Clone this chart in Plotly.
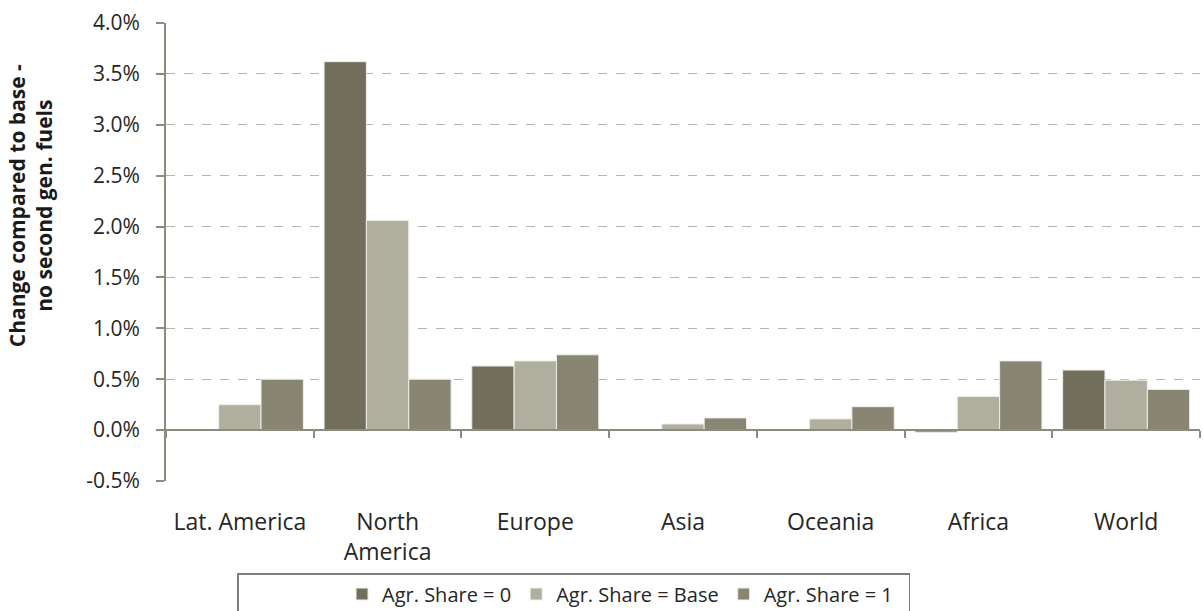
import plotly.graph_objects as go

# Regions on the category axis
regions = ["Lat. America", "North<br>America", "Europe", "Asia", "Oceania", "Africa", "World"]

# Change compared to base (no second generation fuels), as fractions
share_zero = [None, 0.0362, 0.0063, None, None, -0.0002, 0.0059]
share_base = [0.0025, 0.0206, 0.0068, 0.0006, 0.0011, 0.0033, 0.0049]
share_one = [0.0050, 0.0050, 0.0074, 0.0012, 0.0023, 0.0068, 0.0040]

# Value axis ticks
y_ticks = [-0.005, 0.0, 0.005, 0.01, 0.015, 0.02, 0.025, 0.03, 0.035, 0.04]
y_tick_labels = [f"{v:.1%}" for v in y_ticks]

series = [
    ("Agr. Share = 0", share_zero, "#716f5c"),
    ("Agr. Share = Base", share_base, "#b0ae9e"),
    ("Agr. Share = 1\u00a0\u00a0", share_one, "#888673"),
]

y_range = [y_ticks[0], y_ticks[-1]]
axis_col = "#8c8b7d"
font_family = "Open Sans"

fig = go.Figure()
for name, vals, col in series:
    fig.add_trace(go.Bar(
        x=regions, y=vals, name=name,
        marker=dict(color=col, line=dict(color="#eeeee8", width=1)),
        hoverinfo="skip",
    ))

# Invisible trace that carries the category axis drawn along y = 0
fig.add_trace(go.Scatter(
    x=regions, y=[None] * len(regions), xaxis="x2",
    showlegend=False, hoverinfo="skip", mode="markers",
))

fig.update_layout(
    width=1203, height=611,
    margin=dict(l=166, r=3, t=23, b=130, autoexpand=False),
    paper_bgcolor="white", plot_bgcolor="white",
    font=dict(family=font_family, size=20, color="#262626"),
    barmode="group", bargap=0.14, bargroupgap=0,
    xaxis=dict(
        type="category", categoryorder="array", categoryarray=regions,
        range=[-0.5, len(regions) - 0.5],
        showline=False, showgrid=False, ticks="",
        ticklabelstandoff=25, tickfont=dict(size=23),
    ),
    xaxis2=dict(
        type="category", categoryorder="array", categoryarray=regions,
        range=[-0.5, len(regions) - 0.5],
        overlaying="x", anchor="free",
        position=(0 - y_range[0]) / (y_range[1] - y_range[0]),
        showline=True, linecolor=axis_col, linewidth=2,
        ticks="outside", tickson="boundaries", ticklen=7,
        tickcolor=axis_col, tickwidth=1.5,
        showticklabels=False, showgrid=False,
    ),
    yaxis=dict(
        range=y_range, tickvals=y_ticks, ticktext=y_tick_labels,
        showgrid=True, gridcolor="#b5b5ab", gridwidth=1, griddash="dash",
        zeroline=True, zerolinecolor=axis_col, zerolinewidth=2,
        showline=True, linecolor=axis_col, linewidth=2,
        ticks="outside", ticklen=8, tickcolor=axis_col, tickwidth=1.5,
        ticklabelstandoff=12, tickfont=dict(size=21),
    ),
    legend=dict(
        orientation="h", xref="paper", yref="paper",
        x=(237 - 166) / 1034, xanchor="left", y=-(573 - 481) / 458, yanchor="top",
        bordercolor="#7f7f76", borderwidth=1.5,
        font=dict(size=20), itemwidth=30,
        title=dict(text="\u00a0" * 15, side="left", font=dict(size=24)),
    ),
    annotations=[dict(
        text="<b>Change compared to base -<br>no second gen. fuels</b>",
        xref="paper", yref="paper", x=0, y=0.60,
        xanchor="center", yanchor="middle", xshift=-136,
        textangle=-90, showarrow=False,
        font=dict(size=21, color="#1a1a1a", family=font_family),
    )],
)

fig.write_html("out.html")
